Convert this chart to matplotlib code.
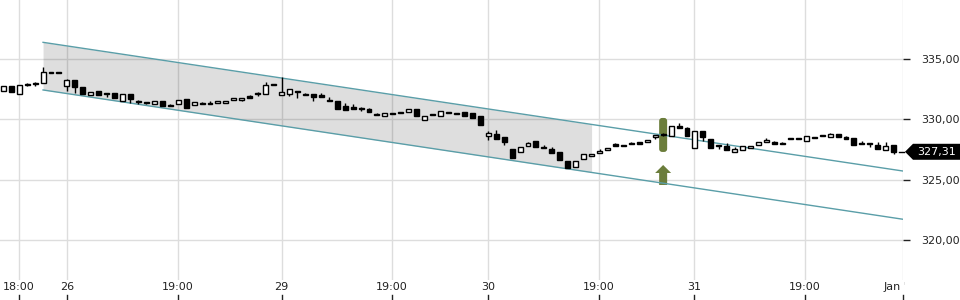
import matplotlib
matplotlib.use("Agg")
import matplotlib.pyplot as plt
import matplotlib.transforms as mtransforms
from matplotlib.patches import Polygon, FancyBboxPatch
from matplotlib.transforms import Bbox, TransformedBbox
import numpy as np

# OHLC, one candle per slot
opens = [332.4, 332.8, 332.1, 332.9, 332.95, 333.05, 333.9, 333.9, 332.8, 333.3,
         332.7, 332.05, 332.35, 332.1, 332.2, 331.55, 332.1, 331.45, 331.4, 331.25,
         331.55, 331.2, 331.25, 331.7, 331.2, 331.4, 331.3, 331.4, 331.4, 331.6,
         331.65, 331.95, 332.1, 332.1, 332.9, 332.05, 332.1, 332.3, 332.15, 332.1,
         332.05, 331.65, 331.55, 331.1, 331.0, 330.87, 330.85, 330.4, 330.3, 330.45,
         330.6, 330.65, 330.85, 329.93, 330.37, 330.25, 330.5, 330.45, 330.65, 330.55,
         330.3, 328.6, 328.8, 328.5, 327.55, 327.27, 327.75, 328.2, 327.7, 327.54,
         327.3, 326.55, 326.05, 326.7, 326.95, 327.2, 327.45, 327.93, 327.9, 327.98,
         328.12, 328.1, 328.5, 328.73, 328.65, 329.45, 329.25, 327.65, 329.0, 328.35,
         327.8, 327.8, 327.3, 327.5, 327.6, 327.9, 328.15, 328.12, 328.05, 328.37,
         328.37, 328.2, 328.43, 328.65, 328.57, 328.77, 328.57, 328.43, 327.96, 327.93,
         327.9, 327.45, 327.9]
highs = [332.8, 332.8, 332.9, 333.05, 333.1, 334.4, 333.9, 333.9, 333.35, 333.3,
         332.7, 332.3, 332.35, 332.1, 332.2, 332.1, 332.1, 331.6, 331.45, 331.5,
         331.55, 331.3, 331.6, 331.7, 331.45, 331.45, 331.55, 331.55, 331.55, 331.75,
         331.8, 332.0, 332.3, 333.1, 332.9, 333.5, 332.5, 332.3, 332.22, 332.1,
         332.2, 331.9, 331.55, 331.4, 331.28, 331.03, 330.98, 330.5, 330.55, 330.45,
         330.6, 330.85, 330.85, 330.31, 330.37, 330.73, 330.5, 330.45, 330.65, 330.55,
         330.3, 329.05, 329.1, 328.5, 327.55, 327.7, 328.1, 328.2, 327.85, 327.7,
         327.3, 326.55, 326.55, 327.1, 327.1, 327.55, 327.6, 328.0, 327.9, 328.1,
         328.12, 328.3, 328.7, 328.9, 329.45, 329.7, 329.4, 329.0, 329.0, 328.35,
         327.8, 328.0, 327.7, 327.75, 327.75, 328.1, 328.45, 328.2, 328.15, 328.37,
         328.37, 328.6, 328.43, 328.65, 328.9, 328.77, 328.65, 328.43, 328.23, 327.93,
         328.15, 328.1, 327.9]
lows = [332.4, 332.3, 332.1, 332.75, 332.8, 333.05, 333.9, 333.9, 332.4, 332.2,
        332.1, 332.05, 332.05, 331.85, 331.8, 331.55, 331.4, 331.3, 331.3, 331.25,
        331.1, 331.1, 331.25, 330.95, 331.2, 331.3, 331.25, 331.4, 331.4, 331.6,
        331.53, 331.8, 331.95, 332.1, 332.9, 332.05, 331.95, 331.8, 332.0, 331.55,
        331.9, 331.5, 330.85, 330.75, 330.9, 330.7, 330.6, 330.37, 330.3, 330.45,
        330.5, 330.65, 330.25, 329.93, 330.37, 330.25, 330.5, 330.45, 330.3, 330.1,
        329.55, 328.25, 328.4, 327.9, 326.8, 327.27, 327.75, 327.7, 327.6, 327.24,
        326.6, 325.95, 326.05, 326.7, 326.95, 327.2, 327.45, 327.79, 327.8, 327.98,
        327.98, 328.1, 328.35, 328.65, 328.65, 329.3, 328.6, 327.65, 328.2, 327.65,
        327.54, 327.45, 327.3, 327.5, 327.6, 327.9, 328.15, 327.96, 327.96, 328.37,
        328.37, 328.2, 328.43, 328.65, 328.57, 328.55, 328.4, 327.9, 327.96, 327.68,
        327.55, 327.45, 327.13]
closes = [332.8, 332.3, 332.9, 332.9, 332.95, 333.97, 333.9, 333.9, 333.3, 332.7,
          332.1, 332.3, 332.05, 332.1, 331.8, 332.1, 331.7, 331.45, 331.4, 331.5,
          331.1, 331.1, 331.6, 330.95, 331.45, 331.3, 331.25, 331.55, 331.55, 331.75,
          331.8, 331.8, 332.1, 332.85, 332.9, 332.3, 332.5, 332.3, 332.05, 331.9,
          331.9, 331.5, 330.85, 330.75, 330.9, 330.87, 330.6, 330.37, 330.55, 330.45,
          330.5, 330.85, 330.25, 330.31, 330.37, 330.7, 330.5, 330.45, 330.3, 330.1,
          329.55, 328.9, 328.4, 328.1, 326.8, 327.7, 328.0, 327.7, 327.6, 327.24,
          326.6, 325.95, 326.55, 327.1, 327.1, 327.4, 327.6, 327.79, 327.8, 327.98,
          327.98, 328.3, 328.7, 328.73, 329.45, 329.3, 328.6, 329.0, 328.5, 327.65,
          327.8, 327.45, 327.55, 327.75, 327.75, 328.1, 328.3, 327.96, 327.96, 328.37,
          328.37, 328.6, 328.43, 328.65, 328.77, 328.55, 328.4, 327.9, 327.96, 327.93,
          327.55, 327.8, 327.31]

tick_pos = [2, 8, 22, 35, 48.9, 61, 74.9, 86.9, 100.8, 113.17]
tick_labels = ["18:00", "26", "19:00", "29", "19:00", "30", "19:00", "31", "19:00", "Jan '25"]
price_ticks = [320, 325, 330, 335]
price_labels = ["320,00", "325,00", "330,00", "335,00"]

# trend channel
channel_x = [5, 113.17]
channel_upper = [336.41, 325.71]
channel_lower = [332.45, 321.70]
shade_end = 74

# buy signal
signal_idx = 83
signal_bar = [327.30, 330.12]
signal_arrow_base = 324.55
last_price = 327.31

fig = plt.figure(figsize=(9.6, 3), dpi=100)
ax = fig.add_axes([0, 20 / 300, 903 / 960, 280 / 300])
ax.set_xlim(-0.415, 113.17)
ax.set_ylim(316.65, 339.93)
for s in ax.spines.values():
    s.set_visible(False)

ax.set_axisbelow(True)
ax.set_xticks(tick_pos)
ax.set_yticks(price_ticks)
ax.grid(True, color='#dddddd', lw=1)

# channel + shading
sx = np.array([channel_x[0], shade_end])
up_s = np.interp(sx, channel_x, channel_upper)
lo_s = np.interp(sx, channel_x, channel_lower)
ax.fill_between(sx, up_s, lo_s, color='black', alpha=0.13, lw=0, zorder=1)
ax.plot(channel_x, channel_upper, color='#5a9ea8', lw=1, zorder=3)
ax.plot(channel_x, channel_lower, color='#5a9ea8', lw=1, zorder=3)

# signal marker
green = '#6b7d3b'
px = fig.dpi_scale_trans
mid = (signal_bar[0] + signal_bar[1]) / 2
bar = FancyBboxPatch((-0.04, -0.17), 0.08, 0.34, boxstyle='round,pad=0,rounding_size=0.03',
                     transform=px + mtransforms.ScaledTranslation(signal_idx, mid, ax.transData),
                     fc=green, ec='none', zorder=2)
ax.add_patch(bar)
arrow_pts = np.array([(-4, 0), (4, 0), (4, 12), (8, 12), (0, 20), (-8, 12), (-4, 12)]) / 100
arrow = Polygon(arrow_pts, closed=True, fc=green, ec='none',
                transform=px + mtransforms.ScaledTranslation(signal_idx, signal_arrow_base, ax.transData),
                zorder=2)
ax.add_patch(arrow)

# candles
o = np.array(opens); h = np.array(highs); l = np.array(lows); c = np.array(closes)
x = np.arange(len(o))
ax.vlines(x, l, h, color='black', lw=1, zorder=4)
up = c > o
bottom = np.minimum(o, c)
height = np.maximum(np.abs(c - o), 0.08)
ax.bar(x[up], height[up], bottom=bottom[up], width=0.62, color='white',
       edgecolor='black', lw=1, zorder=5)
ax.bar(x[~up], height[~up], bottom=bottom[~up], width=0.62, color='black',
       edgecolor='black', lw=1, zorder=5)

# y axis on the right
ax.yaxis.tick_right()
ax.set_yticklabels(price_labels)
ax.tick_params(axis='y', length=5, width=1, pad=8, labelsize=8, colors='#222222')

# x labels, with little tick marks underneath
ax.tick_params(axis='x', length=0, labelbottom=False)
xt = ax.get_xaxis_transform()
clip = TransformedBbox(Bbox([[0, 0], [905 / 960, 1]]), fig.transFigure)
for p, lab in zip(tick_pos, tick_labels):
    t = ax.text(p, -2 / 280, lab, transform=xt, ha='center', va='top',
                fontsize=8, color='#222222')
    t.set_clip_on(True)
    t.set_clip_box(clip)
    ax.plot([p, p], [-15 / 280, -20 / 280], transform=xt, color='#222222',
            lw=1, clip_on=False)

# last price tag
bt = mtransforms.blended_transform_factory(fig.transFigure, ax.transData)
dy = 8 / 12.03
tag = Polygon([(905 / 960, last_price), (913 / 960, last_price + dy), (1.0, last_price + dy),
               (1.0, last_price - dy), (913 / 960, last_price - dy)], closed=True,
              fc='black', ec='none', transform=bt, clip_on=False)
ax.add_patch(tag)
ax.plot([899 / 960, 904 / 960], [last_price, last_price], transform=bt, color='black',
        lw=1, clip_on=False)
ax.text(917 / 960, last_price, "327,31", transform=bt, color='white', fontsize=8,
        va='center', ha='left', clip_on=False)

fig.savefig('out.png', dpi=100)
